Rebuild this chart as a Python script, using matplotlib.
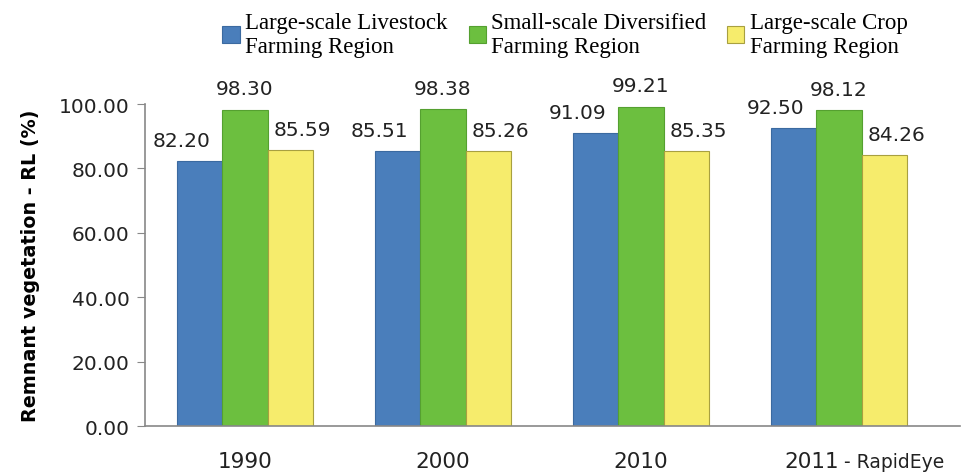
import matplotlib.pyplot as plt
import numpy as np

years = ['1990', '2000', '2010', '2011']
livestock = [82.20, 85.51, 91.09, 92.50]
diversified = [98.30, 98.38, 99.21, 98.12]
crop = [85.59, 85.26, 85.35, 84.26]

series_names = ['Large-scale Livestock\nFarming Region',
                'Small-scale Diversified\nFarming Region',
                'Large-scale Crop\nFarming Region']
colors = ['#4a7ebb', '#6cbf3f', '#f6ec6c']
edges = ['#3b6aa0', '#55a030', '#a8a040']
txt = '#222222'
num_font = 'DejaVu Sans'

fig = plt.figure(figsize=(9.63, 4.77), dpi=100)
ax = fig.add_axes([0.1506, 0.1048, 0.846, 0.675])

x = np.arange(len(years))
w = 0.23
label_dx = [-0.09, 0.0, 0.06]
for i, vals in enumerate([livestock, diversified, crop]):
    pos = x + (i - 1) * w
    ax.bar(pos, vals, width=w, color=colors[i], edgecolor=edges[i],
           linewidth=0.8, label=series_names[i])
    for p, v in zip(pos, vals):
        ax.annotate(f'{v:.2f}', (p + label_dx[i], v), xytext=(0, 8),
                    textcoords='offset points', ha='center', va='bottom',
                    fontsize=14.5, family=num_font, color=txt)

ax.set_xlim(-0.504, 3.61)
ax.set_ylim(0, 100)
ax.set_yticks(np.arange(0, 101, 20))
ax.set_yticklabels([f'{t:.2f}' for t in np.arange(0, 101, 20)],
                   family=num_font, fontsize=14.5, color=txt)
ax.set_xticks(x[:3])
ax.set_xticklabels(years[:3], family=num_font, fontsize=15.5, color=txt)
ax.tick_params(axis='x', length=0, pad=18)
ax.tick_params(axis='y', length=6, color='#888888', pad=5)
# last category label has a smaller suffix
ax.annotate(years[3], (3.0, 0), xycoords=('data', 'axes fraction'),
            xytext=(0, -18), textcoords='offset points',
            ha='right', va='top', family=num_font, fontsize=15.5, color=txt)
ax.annotate('- RapidEye', (3.025, 0), xycoords=('data', 'axes fraction'),
            xytext=(0, -29.5), textcoords='offset points',
            ha='left', va='baseline', family=num_font, fontsize=13.5, color=txt)

for s in ['top', 'right']:
    ax.spines[s].set_visible(False)
for s in ['left', 'bottom']:
    ax.spines[s].set_color('#888888')
    ax.spines[s].set_linewidth(1.2)

ax.set_ylabel('Remnant vegetation - RL (%)', family=num_font,
              fontweight='bold', fontsize=13.8, labelpad=14)

ax.legend(loc='upper center', bbox_to_anchor=(0.587, 0.995), bbox_transform=fig.transFigure,
          ncol=3, frameon=False, prop={'family': 'Liberation Serif', 'size': 16.5},
          handlelength=0.75, handleheight=0.75, handletextpad=0.25, columnspacing=0.9,
          borderaxespad=0.05, labelspacing=0.2)

fig.savefig('out.png', dpi=100)
